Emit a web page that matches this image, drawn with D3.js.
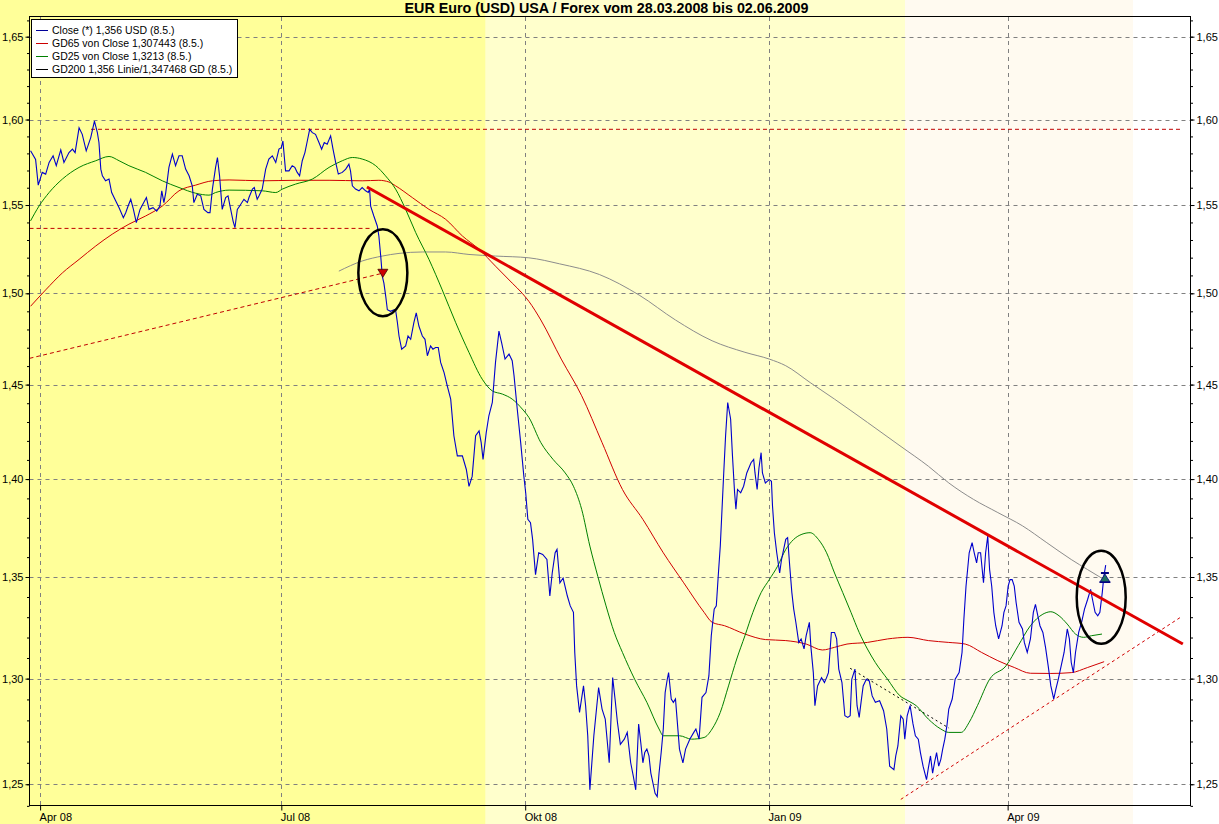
<!DOCTYPE html>
<html><head><meta charset="utf-8">
<script src="https://cdn.jsdelivr.net/npm/d3@7"></script>
<style>
body{margin:0;background:#fff}
svg{display:block}
text{font-family:"Liberation Sans",Arial,sans-serif;fill:#000}
</style>
</head><body>
<svg id="chart" width="1219" height="824"></svg>
<script>
// ---------------- DATA ----------------
const chartTitle = "EUR Euro (USD) USA / Forex vom 28.03.2008 bis 02.06.2009";
const startDateUTC = Date.UTC(2008, 2, 28);          // day 0 = 28.03.2008
const xDomainDays = [0, 437.8];                      // visible time span (days from start)
const yDomain = [1.2404, 1.6621];                    // log value axis
const yMajorTicks = [1.25, 1.30, 1.35, 1.40, 1.45, 1.50, 1.55, 1.60, 1.65];
const yMinorTicks = d3.range(124, 167).map(v => v / 100);
const xTickDates = ["2008-04-01", "2008-07-01", "2008-10-01", "2009-01-01", "2009-04-01"];
const xTickLabels = ["Apr 08", "Jul 08", "Okt 08", "Jan 09", "Apr 09"];
const bandEdgesDays = [-30, 172.1, 330.3, 416.3, 500];
const bandColors = ["#FFFF99", "#FFFFCC", "#FFFAF0", "#FFFFFF"];

const legendLabels = [
  "Close (*) 1,356 USD (8.5.)",
  "GD65 von Close 1,307443 (8.5.)",
  "GD25 von Close 1,3213 (8.5.)",
  "GD200 1,356 Linie/1,347468 GD (8.5.)"
];
const legendColors = ["#000099", "#CC0000", "#008000", "#000000"];

// Close prices: [day offset, value]
const closePoints = [
[0.4,1.5815],[2.3,1.5764],[3.3,1.5615],[4.8,1.5689],[6.1,1.5679],[7.4,1.5747],[8.9,1.5786],[10.1,1.5728],[11.8,1.5821],[13.0,1.5747],
[14.9,1.5805],[16.2,1.5825],[17.2,1.5805],[18.7,1.5951],[19.9,1.5912],[21.4,1.5815],[23.1,1.5893],[24.5,1.5990],[25.6,1.5922],[26.2,1.5864],
[26.9,1.5708],[27.5,1.5669],[28.7,1.5640],[30.0,1.5650],[31.0,1.5572],[32.5,1.5524],[33.8,1.5484],[35.4,1.5427],[36.3,1.5456],[37.2,1.5494],
[38.2,1.5533],[39.2,1.5475],[40.3,1.5399],[41.7,1.5475],[44.1,1.5543],[45.1,1.5475],[46.6,1.5485],[48.0,1.5465],[49.2,1.5494],[49.9,1.5582],
[50.7,1.5514],[51.4,1.5572],[52.6,1.5718],[53.9,1.5796],[55.1,1.5728],[56.4,1.5786],[57.6,1.5786],[58.9,1.5708],[60.2,1.5669],[61.4,1.5611],
[62.0,1.5514],[63.3,1.5562],[64.6,1.5553],[65.8,1.5475],[67.3,1.5456],[68.1,1.5456],[69.0,1.5592],[70.2,1.5718],[70.9,1.5776],[71.7,1.5669],
[72.7,1.5475],[74.0,1.5543],[74.9,1.5553],[75.9,1.5475],[76.8,1.5408],[77.5,1.5370],[78.4,1.5475],[79.3,1.5494],[80.9,1.5533],[82.2,1.5514],
[82.8,1.5543],[84.1,1.5592],[84.8,1.5601],[85.9,1.5533],[86.6,1.5553],[87.8,1.5592],[89.1,1.5708],[90.3,1.5767],[91.6,1.5786],[92.9,1.5747],
[94.1,1.5825],[95.0,1.5834],[95.6,1.5873],[96.6,1.5698],[97.9,1.5698],[99.1,1.5728],[100.1,1.5718],[101.0,1.5689],[101.9,1.5669],[102.9,1.5757],
[103.9,1.5805],[104.8,1.5873],[105.7,1.5942],[106.7,1.5922],[107.9,1.5912],[109.2,1.5864],[110.2,1.5825],[111.2,1.5864],[112.3,1.5854],[113.6,1.5903],
[114.5,1.5825],[115.5,1.5747],[116.5,1.5679],[118.0,1.5689],[119.3,1.5708],[120.5,1.5737],[121.1,1.5698],[121.8,1.5611],[123.0,1.5592],[124.3,1.5582],
[125.5,1.5601],[126.8,1.5582],[127.8,1.5572],[128.3,1.5592],[128.7,1.5494],[129.9,1.5437],[131.2,1.5380],[131.8,1.5323],[132.5,1.5209],[133.1,1.5095],
[133.7,1.5057],[134.4,1.4982],[135.0,1.4909],[136.2,1.4900],[137.5,1.4909],[138.1,1.4909],[138.8,1.4837],[139.4,1.4764],[140.4,1.4692],[141.9,1.4710],
[142.8,1.4764],[143.8,1.4746],[145.0,1.4837],[145.9,1.4891],[146.9,1.4819],[148.2,1.4764],[149.2,1.4746],[150.1,1.4656],[151.3,1.4710],[152.2,1.4692],
[153.2,1.4701],[154.2,1.4701],[155.1,1.4620],[156.4,1.4565],[157.6,1.4493],[158.9,1.4422],[160.1,1.4227],[161.4,1.4121],[163.3,1.4121],[164.8,1.4050],
[165.8,1.3962],[167.0,1.4014],[168.3,1.4227],[169.6,1.4253],[170.4,1.4191],[171.1,1.4103],[172.3,1.4244],[173.3,1.4333],[174.6,1.4404],[175.8,1.4620],
[177.1,1.4791],[178.1,1.4728],[179.4,1.4638],[180.9,1.4665],[182.1,1.4629],[182.8,1.4547],[184.0,1.4369],[185.3,1.4191],[186.5,1.4014],[187.2,1.3928],
[188.0,1.3792],[189.0,1.3775],[189.8,1.3690],[190.9,1.3512],[192.1,1.3622],[193.6,1.3614],[195.2,1.3588],[196.3,1.3405],[197.2,1.3520],[198.3,1.3622],
[199.0,1.3639],[200.1,1.3471],[201.3,1.3495],[202.9,1.3405],[204.0,1.3356],[205.2,1.3324],[205.7,1.3127],[206.4,1.2965],[207.5,1.2838],[209.0,1.2965],
[209.8,1.2870],[210.6,1.2727],[211.4,1.2474],[212.9,1.2727],[214.7,1.2957],[216.0,1.2854],[217.2,1.2806],[218.7,1.2600],[220.0,1.3005],[220.9,1.2902],
[221.8,1.2791],[222.9,1.2687],[224.4,1.2711],[225.5,1.2743],[226.8,1.2600],[227.8,1.2537],[228.7,1.2474],[229.8,1.2783],[230.6,1.2695],[231.4,1.2600],
[232.1,1.2648],[232.9,1.2664],[233.7,1.2632],[234.4,1.2552],[235.2,1.2505],[236.0,1.2458],[236.8,1.2443],[237.5,1.2552],[238.3,1.2648],[239.1,1.2759],
[239.8,1.2933],[240.6,1.2997],[241.1,1.3029],[242.1,1.2902],[242.9,1.2886],[243.7,1.2902],[245.2,1.2664],[246.5,1.2600],[247.5,1.2664],[249.1,1.2711],
[250.6,1.2743],[251.4,1.2759],[252.6,1.2711],[253.7,1.2910],[255.2,1.2933],[256.3,1.3013],[257.2,1.3209],[258.3,1.3340],[259.1,1.3356],[259.9,1.3520],
[260.6,1.3656],[261.9,1.4032],[262.6,1.4227],[263.4,1.4404],[264.5,1.4316],[265.2,1.4121],[266.0,1.3929],[266.5,1.3844],[267.1,1.3946],[268.3,1.3929],
[269.4,1.3963],[270.6,1.4032],[272.2,1.4085],[273.2,1.4103],[273.7,1.4032],[274.5,1.3946],[275.2,1.4059],[276.0,1.4138],[276.5,1.4032],[277.6,1.3980],
[278.3,1.3988],[279.1,1.3997],[279.9,1.3988],[280.3,1.3861],[281.0,1.3724],[281.9,1.3622],[283.0,1.3520],[283.7,1.3588],[285.3,1.3690],[286.0,1.3699],
[286.8,1.3554],[287.6,1.3422],[288.3,1.3340],[289.1,1.3275],[290.2,1.3176],[291.1,1.3193],[292.2,1.3144],[293.0,1.3209],[294.2,1.3275],[294.8,1.3152],
[295.7,1.3029],[296.3,1.2870],[297.3,1.2965],[298.8,1.3005],[299.9,1.2981],[300.7,1.3005],[301.4,1.3029],[302.5,1.3225],[303.7,1.3225],[304.5,1.3193],
[305.3,1.3046],[306.5,1.2981],[307.6,1.2822],[308.7,1.2814],[309.6,1.2822],[310.2,1.2997],[311.4,1.3046],[312.2,1.2870],[313.0,1.2814],[313.7,1.2886],
[314.5,1.2965],[315.7,1.2997],[316.8,1.2989],[317.9,1.2917],[319.1,1.2886],[320.7,1.2894],[322.2,1.2846],[323.4,1.2759],[324.5,1.2584],[326.1,1.2568],
[326.8,1.2632],[327.6,1.2679],[328.7,1.2822],[329.6,1.2806],[330.2,1.2711],[331.1,1.2822],[332.2,1.2870],[333.3,1.2783],[334.2,1.2727],[335.3,1.2711],
[336.1,1.2648],[337.1,1.2584],[338.4,1.2521],[339.1,1.2576],[339.9,1.2632],[340.7,1.2552],[341.4,1.2600],[342.2,1.2648],[343.0,1.2584],[343.8,1.2616],
[344.5,1.2664],[345.3,1.2711],[346.1,1.2775],[346.8,1.2854],[348.1,1.2902],[349.2,1.2997],[350.7,1.3029],[351.8,1.3127],[352.5,1.3291],[353.3,1.3454],
[354.5,1.3622],[355.6,1.3673],[356.4,1.3622],[357.3,1.3571],[357.9,1.3622],[358.8,1.3622],[359.9,1.3471],[360.7,1.3622],[361.5,1.3707],[362.2,1.3537],
[363.0,1.3454],[363.8,1.3324],[364.5,1.3258],[365.6,1.3193],[366.9,1.3258],[367.6,1.3324],[368.4,1.3356],[369.2,1.3454],[369.9,1.3487],[370.7,1.3487],
[371.5,1.3454],[372.2,1.3373],[373.3,1.3275],[374.6,1.3242],[375.3,1.3176],[376.4,1.3127],[377.6,1.3193],[378.7,1.3324],[379.5,1.3364],[380.4,1.3307],
[381.2,1.3258],[382.3,1.3225],[383.3,1.3152],[384.3,1.3062],[385.3,1.2965],[386.4,1.2902],[387.2,1.2949],[388.1,1.2997],[389.2,1.3062],[390.3,1.3127],
[391.5,1.3242],[392.3,1.3193],[393.0,1.3078],[393.8,1.3029],[394.6,1.3127],[395.8,1.3225],[396.9,1.3275],[398.0,1.3340],[399.2,1.3389],[400.3,1.3438],
[401.0,1.3389],[402.0,1.3324],[403.0,1.3307],[403.8,1.3324],[404.7,1.3422],[405.3,1.3503],[406.0,1.3560]
];

// Moving averages: [day offset, value]
const gd65Points = [
[0.4,1.4928],[6.1,1.5019],[12.4,1.5114],[18.7,1.5190],[25.0,1.5266],[31.2,1.5333],[37.5,1.5390],[43.8,1.5437],[50.1,1.5494],[56.4,1.5582],
[62.7,1.5615],[69.0,1.5640],[75.3,1.5645],[87.8,1.5640],[100.4,1.5643],[113.0,1.5643],[125.5,1.5640],[131.8,1.5643],[135.6,1.5633],[138.1,1.5611],
[144.4,1.5543],[150.7,1.5475],[157.0,1.5418],[163.3,1.5323],[169.6,1.5247],[175.8,1.5152],[182.1,1.5057],[185.9,1.5000],[188.4,1.4955],[192.9,1.4852],
[200.6,1.4638],[208.3,1.4440],[216.0,1.4191],[223.7,1.3946],[231.4,1.3792],[239.1,1.3622],[246.8,1.3471],[254.5,1.3324],[257.5,1.3275],[262.2,1.3258],
[269.9,1.3217],[277.6,1.3190],[285.3,1.3185],[293.0,1.3168],[299.1,1.3139],[303.7,1.3152],[308.4,1.3168],[316.1,1.3176],[323.7,1.3193],[331.4,1.3201],
[339.1,1.3185],[346.8,1.3176],[353.0,1.3168],[359.2,1.3127],[365.3,1.3087],[371.5,1.3054],[377.6,1.3026],[385.3,1.3025],[393.0,1.3029],[399.2,1.3054],
[405.4,1.3082]
];
const gd25Points = [
[0.4,1.5409],[3.6,1.5494],[7.4,1.5572],[12.4,1.5650],[18.7,1.5718],[25.0,1.5757],[30.0,1.5782],[33.8,1.5757],[37.5,1.5728],[43.8,1.5689],
[50.1,1.5640],[56.4,1.5601],[62.7,1.5568],[67.7,1.5557],[70.2,1.5572],[75.3,1.5586],[87.8,1.5582],[92.9,1.5572],[95.4,1.5592],[100.4,1.5621],
[106.7,1.5650],[113.0,1.5718],[118.0,1.5757],[121.8,1.5776],[125.5,1.5767],[130.6,1.5728],[134.3,1.5669],[138.1,1.5592],[141.9,1.5475],[145.7,1.5342],
[150.7,1.5190],[155.7,1.5019],[160.8,1.4837],[165.8,1.4674],[170.8,1.4529],[174.6,1.4466],[178.4,1.4449],[182.1,1.4422],[185.9,1.4369],[188.4,1.4324],
[192.9,1.4191],[197.5,1.4103],[202.1,1.4032],[205.2,1.3963],[208.3,1.3844],[211.4,1.3656],[214.4,1.3503],[217.5,1.3356],[220.6,1.3225],[223.7,1.3127],
[228.3,1.2997],[232.9,1.2886],[237.5,1.2759],[239.1,1.2727],[245.2,1.2727],[249.8,1.2711],[254.5,1.2719],[257.5,1.2759],[260.6,1.2838],[263.7,1.2965],
[266.8,1.3095],[269.9,1.3209],[272.9,1.3324],[276.0,1.3422],[279.1,1.3487],[282.2,1.3554],[285.3,1.3639],[288.3,1.3690],[291.4,1.3716],[294.5,1.3724],
[297.6,1.3690],[300.7,1.3622],[303.7,1.3520],[306.8,1.3422],[309.9,1.3324],[313.0,1.3225],[316.1,1.3144],[319.1,1.3078],[323.7,1.2997],[328.4,1.2917],
[331.4,1.2894],[334.5,1.2870],[339.1,1.2806],[343.8,1.2759],[346.8,1.2743],[351.5,1.2743],[354.5,1.2791],[357.6,1.2870],[362.2,1.2997],[368.4,1.3062],
[373.0,1.3160],[377.6,1.3258],[382.3,1.3315],[385.3,1.3327],[388.4,1.3307],[391.5,1.3266],[394.6,1.3217],[397.7,1.3201],[400.7,1.3209],[404.6,1.3217]
];
const gd200Points = [
[116.7,1.5124],[125.5,1.5181],[133.1,1.5209],[139.4,1.5224],[148.2,1.5232],[157.0,1.5232],[165.8,1.5218],[175.8,1.5209],[188.4,1.5199],[200.0,1.5165],
[215.0,1.5105],[230.0,1.4990],[243.7,1.4852],[257.5,1.4738],[269.9,1.4675],[279.1,1.4638],[285.3,1.4602],[294.5,1.4511],[303.7,1.4422],[316.1,1.4298],
[328.4,1.4174],[339.1,1.4067],[346.8,1.3980],[356.1,1.3895],[365.3,1.3827],[374.6,1.3759],[383.8,1.3673],[393.0,1.3588],[399.2,1.3537],[405.4,1.3487]
];

// Drawn annotations: [day offset, value]
const trendLine = [[127.3, 1.5604], [435.1, 1.3168]];
const resistanceHigh = [[23.2, 1.5942], [435.1, 1.5942]];
const resistanceLow = [[0, 1.5366], [129.2, 1.5366]];
const risingDash = [[0, 1.4642], [133.1, 1.5112]];
const supportDash = [[328.7, 1.2430], [434.4, 1.3301]];
const shortDash = [[309.6, 1.3050], [346.9, 1.2763]];
const ellipseCenters = [[133.3, 1.5115], [404.3, 1.3399]];
const sellSignal = [133.3, 1.5112];
const buySignal = [405.7, 1.3495];

// ---------------- DRAW ----------------
const W = 1219, H = 824;
const plot = {left: 29.5, right: 1190, top: 17, bottom: 805};
const svg = d3.select("#chart");
const dayToDate = d => new Date(startDateUTC + d * 864e5);

const x = d3.scaleUtc().domain(xDomainDays.map(dayToDate)).range([plot.left, plot.right]);
const y = d3.scaleLog().domain(yDomain).range([plot.bottom, plot.top]);
const X = d => x(dayToDate(d));

// background bands (full height)
svg.selectAll("rect.band").data(bandColors).join("rect")
  .attr("class", "band")
  .attr("x", (c, i) => Math.max(0, X(bandEdgesDays[i])))
  .attr("y", 0)
  .attr("width", (c, i) => Math.min(W, X(bandEdgesDays[i + 1])) - Math.max(0, X(bandEdgesDays[i])))
  .attr("height", H)
  .attr("fill", c => c);

// gridlines
const grid = svg.append("g").attr("stroke", "#808080").attr("stroke-width", 1).attr("stroke-dasharray", "4,4");
grid.selectAll("line.h").data(yMajorTicks).join("line")
  .attr("x1", plot.left).attr("x2", plot.right)
  .attr("y1", d => Math.round(y(d)) + 0.5).attr("y2", d => Math.round(y(d)) + 0.5);
grid.selectAll("line.v").data(xTickDates).join("line")
  .attr("y1", plot.top).attr("y2", plot.bottom)
  .attr("x1", d => Math.round(x(new Date(d + "T00:00:00Z"))) + 0.5)
  .attr("x2", d => Math.round(x(new Date(d + "T00:00:00Z"))) + 0.5);

const clip = svg.append("clipPath").attr("id", "clip").append("rect")
  .attr("x", plot.left).attr("y", plot.top).attr("width", plot.right - plot.left).attr("height", plot.bottom - plot.top);
const g = svg.append("g").attr("clip-path", "url(#clip)");

const lineLin = d3.line().x(p => X(p[0])).y(p => y(p[1]));
const lineSmooth = d3.line().x(p => X(p[0])).y(p => y(p[1])).curve(d3.curveMonotoneX);

// dashed helper lines
function dashed(pts, color, dash, w) {
  g.append("path").attr("d", lineLin(pts)).attr("fill", "none")
    .attr("stroke", color).attr("stroke-width", w || 1).attr("stroke-dasharray", dash);
}
dashed(resistanceHigh, "#C00000", "4,3");
dashed(resistanceLow, "#C00000", "4,3");
dashed(risingDash, "#C00000", "4,3");
dashed(supportDash, "#D00000", "3,3");
dashed(shortDash, "#000000", "2,3");

// moving averages
g.append("path").attr("d", lineSmooth(gd200Points)).attr("fill", "none").attr("stroke", "#8C8C8C").attr("stroke-width", 1);
g.append("path").attr("d", lineSmooth(gd65Points)).attr("fill", "none").attr("stroke", "#D00000").attr("stroke-width", 1);
g.append("path").attr("d", lineSmooth(gd25Points)).attr("fill", "none").attr("stroke", "#008000").attr("stroke-width", 1);

// close
g.append("path").attr("d", lineLin(closePoints)).attr("fill", "none").attr("stroke", "#0000CC").attr("stroke-width", 1.1);

// trend line
g.append("path").attr("d", lineLin(trendLine)).attr("fill", "none").attr("stroke", "#E00000").attr("stroke-width", 3);

// ellipses
g.selectAll("ellipse").data(ellipseCenters).join("ellipse")
  .attr("cx", p => X(p[0])).attr("cy", p => y(p[1]))
  .attr("rx", 24.5).attr("ry", (p, i) => i === 0 ? 43.5 : 46.5)
  .attr("fill", "none").attr("stroke", "#000").attr("stroke-width", 2.5);

// signals
const sx = X(sellSignal[0]), sy = y(sellSignal[1]);
g.append("path").attr("d", `M${sx-5},${sy-4}L${sx+5},${sy-4}L${sx},${sy+4}Z`)
  .attr("fill", "#CC0000").attr("stroke", "#400000").attr("stroke-width", 0.8);
const bx = X(buySignal[0]), by = y(buySignal[1]);
g.append("path").attr("d", `M${bx-5},${by+4}L${bx+5},${by+4}L${bx},${by-4}Z`)
  .attr("fill", "#1E7060").attr("stroke", "#000080").attr("stroke-width", 0.8);
g.append("rect").attr("x", bx - 4).attr("y", by - 6).attr("width", 8).attr("height", 2).attr("fill", "#000080");
g.append("rect").attr("x", bx - 5.5).attr("y", by + 3.5).attr("width", 11).attr("height", 1.5).attr("fill", "#000080");

// axes
const fmt = d => d3.format(".2f")(d).replace(".", ",");
function yAxes(axisFn, xPos) {
  svg.append("g").attr("transform", `translate(${xPos},0)`)
    .call(axisFn(y).tickValues(yMinorTicks).tickSize(2.5).tickFormat(""))
    .call(a => a.select(".domain").remove())
    .call(a => a.selectAll("line").attr("stroke", "#000"));
  svg.append("g").attr("transform", `translate(${xPos},0)`)
    .call(axisFn(y).tickValues(yMajorTicks).tickSize(4).tickPadding(2).tickFormat(fmt))
    .call(a => a.select(".domain").remove())
    .call(a => a.selectAll("line").attr("stroke", "#000"))
    .call(a => a.selectAll("text").attr("font-size", 11).attr("font-family", "'Liberation Sans',Arial,sans-serif").attr("fill", "#000"));
}
yAxes(d3.axisLeft, plot.left);
yAxes(d3.axisRight, plot.right + 0.5);

svg.append("g").attr("transform", `translate(0,${plot.bottom + 0.5})`)
  .call(d3.axisBottom(x).tickValues(xTickDates.map(d => new Date(d + "T00:00:00Z"))).tickSize(5)
    .tickFormat((d, i) => xTickLabels[i]))
  .call(a => a.select(".domain").remove())
  .call(a => a.selectAll("line").attr("stroke", "#000"))
  .call(a => a.selectAll("text").attr("font-size", 11).attr("font-family", "'Liberation Sans',Arial,sans-serif")
    .attr("fill", "#000").attr("text-anchor", "start").attr("x", -1).attr("y", 8).attr("dy", "0.71em"));

// frame
svg.append("rect").attr("x", plot.left).attr("y", plot.top - 0.5)
  .attr("width", plot.right + 0.5 - plot.left).attr("height", plot.bottom + 0.5 - plot.top + 0.5)
  .attr("fill", "none").attr("stroke", "#000").attr("stroke-width", 1);

// title
svg.append("text").attr("x", 606.5).attr("y", 13).attr("text-anchor", "middle")
  .attr("font-size", 14.3).attr("font-weight", "bold").text(chartTitle);

// legend
const lg = svg.append("g");
lg.append("rect").attr("x", 31.5).attr("y", 19.5).attr("width", 206).attr("height", 58)
  .attr("fill", "#fff").attr("stroke", "#000").attr("stroke-width", 1);
legendLabels.forEach((t, i) => {
  const cy = 29.5 + i * 13.3;
  lg.append("line").attr("x1", 36).attr("x2", 48).attr("y1", Math.round(cy) + 0.5).attr("y2", Math.round(cy) + 0.5)
    .attr("stroke", legendColors[i]).attr("stroke-width", 1);
  lg.append("text").attr("x", 52).attr("y", cy + 4).attr("font-size", 10.5).text(t);
});
</script>
</body></html>
